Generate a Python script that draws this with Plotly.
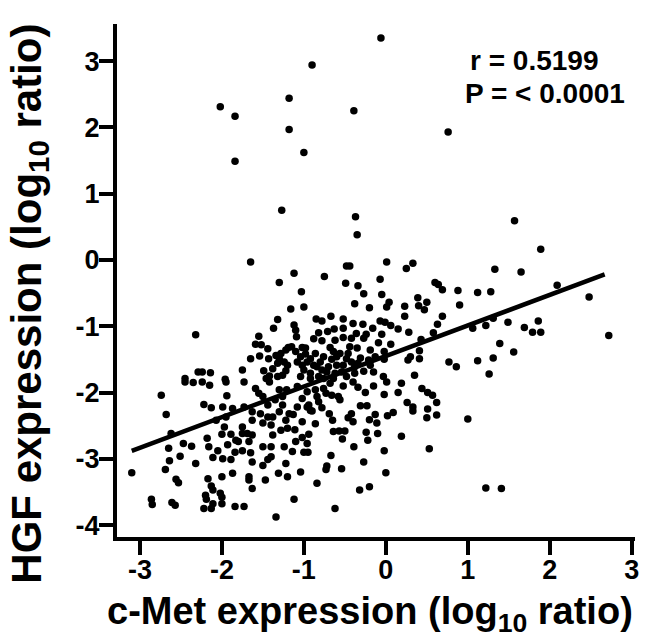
import plotly.graph_objects as go

# c-Met (x) vs HGF (y) expression, log10 ratio
upper_pts = [(-2.02, 2.31), (-1.84, 2.17), (-1.84, 1.49), (-1.18, 2.44), (-1.18, 1.97),
             (-0.06, 3.35), (-0.90, 2.94), (-0.39, 2.25), (0.76, 1.93), (-1.00, 1.62)]

left_mid_pts = [(-1.27, 0.75), (-1.65, -0.03), (-1.30, -0.34), (-1.16, -0.74), (-1.32, -0.90),
                (-1.37, -1.03), (-2.32, -1.13), (-1.55, -1.15), (-1.59, -1.27), (-1.52, -1.28),
                (-1.44, -1.34), (-1.65, -1.49), (-1.54, -1.45), (-1.43, -1.49), (-1.34, -1.44),
                (-1.30, -1.49), (-1.22, -1.36), (-1.19, -1.32), (-1.32, -1.56), (-1.75, -1.66),
                (-2.29, -1.69), (-2.24, -1.69), (-2.14, -1.70), (-1.49, -1.67), (-1.22, -1.67),
                (-2.45, -1.79), (-1.96, -1.80), (-1.42, -1.75), (-1.32, -1.76),
                (-1.28, -1.41), (-1.24, -1.54), (-1.38, -1.64), (-1.26, -1.74), (-1.20, -1.59),
                (-1.46, -1.79)]

center_pts = [(-0.37, 0.65), (-0.35, 0.38), (0.01, -0.03), (-0.48, -0.09), (-0.44, -0.09),
              (0.25, -0.13), (0.33, -0.05), (-1.12, -0.20), (-0.75, -0.25), (-0.07, -0.29),
              (-0.49, -0.35), (-0.34, -0.39), (0.60, -0.34), (0.64, -0.37), (0.69, -0.45),
              (0.88, -0.46), (-1.03, -0.48), (-0.27, -0.51), (-0.05, -0.52), (0.39, -0.57),
              (0.50, -0.64), (0.04, -0.64), (-0.38, -0.66), (0.40, -0.69), (0.90, -0.68),
              (0.01, -0.71), (-0.20, -0.72), (0.23, -0.70), (-1.00, -0.71), (0.47, -0.75),
              (0.23, -0.85), (-0.67, -0.85), (0.69, -0.85), (-0.85, -0.89), (-0.78, -0.92),
              (-0.52, -0.89), (-0.07, -0.92), (-0.01, -0.94), (-0.40, -0.96), (-0.28, -0.97),
              (0.63, -0.97), (-1.12, -0.98), (-0.16, -1.03), (0.06, -0.99), (0.15, -1.04),
              (-1.10, -1.06), (-0.63, -1.04), (-0.52, -1.03), (-0.71, -1.08), (-0.82, -1.10),
              (-0.36, -1.11), (-0.24, -1.12), (-0.05, -1.12), (0.28, -1.09), (0.58, -1.10),
              (-1.09, -1.16), (-0.52, -1.17), (-0.42, -1.18), (-0.27, -1.18), (-0.88, -1.19),
              (-0.78, -1.22), (-0.62, -1.21), (0.43, -1.20), (-0.09, -1.25), (0.06, -1.27),
              (-1.15, -1.31), (-1.02, -1.32), (-0.68, -1.32), (-0.44, -1.31), (-0.35, -1.33),
              (-0.19, -1.36), (0.41, -1.37), (-0.98, -1.42), (-0.86, -1.41), (-0.56, -1.41),
              (-0.02, -1.38), (-0.76, -1.46), (-0.92, -1.49), (-0.66, -1.50), (-0.48, -1.49),
              (-0.31, -1.48), (0.30, -1.46), (0.41, -1.49), (0.77, -1.54), (0.86, -1.61),
              (-1.08, -1.54), (0.27, -1.51), (-0.21, -1.51), (-0.02, -1.50), (-1.02, -1.59),
              (-0.84, -1.61), (-0.60, -1.59), (-0.38, -1.61), (-0.72, -1.69), (-0.92, -1.71),
              (-0.54, -1.69), (-0.27, -1.68), (-1.04, -1.76), (0.35, -1.74), (-0.03, -1.76),
              (-0.64, -1.79)]

# dense core (overlapping dots)
core_pts = [(-1.10, -1.38), (-1.04, -1.46), (-0.96, -1.54), (-1.00, -1.66), (-0.88, -1.59),
            (-0.80, -1.54), (-0.78, -1.66), (-0.70, -1.61), (-0.92, -1.79), (-0.82, -1.76),
            (-0.76, -1.79), (-0.98, -1.33), (-0.60, -1.46), (-0.64, -1.38), (-0.46, -1.41),
            (-0.52, -1.59), (-0.42, -1.54), (-0.34, -1.56), (-0.19, -1.59), (-0.13, -1.46),
            (-0.15, -1.69), (-0.38, -1.71), (-0.48, -1.76), (-0.62, -1.71),
            (-1.55, -2.01), (-1.30, -1.96), (-1.26, -2.19), (-1.44, -2.37), (-1.18, -2.32),
            (-1.08, -1.91), (-1.02, -2.09), (-0.76, -1.94), (-0.66, -2.04), (-1.08, -2.22)]

right_pts = [(1.57, 0.59), (1.89, 0.16), (1.33, -0.14), (1.65, -0.18), (1.12, -0.49),
             (1.28, -0.48), (2.09, -0.38), (2.48, -0.56), (1.31, -0.88), (1.06, -1.03),
             (1.22, -0.99), (1.49, -0.94), (1.69, -1.02), (1.86, -0.92), (1.79, -1.09),
             (1.89, -1.09), (2.72, -1.14), (1.39, -1.26), (1.56, -1.39), (1.12, -1.52),
             (1.31, -1.48), (1.26, -1.72), (1.00, -2.40), (1.22, -3.44), (1.41, -3.45)]

low_left_pts = [(-2.74, -2.04), (-2.68, -2.33), (-3.10, -3.21), (-2.65, -2.84), (-2.64, -3.03),
                (-2.69, -3.16), (-2.56, -3.31), (-2.53, -3.36), (-2.86, -3.61), (-2.85, -3.69),
                (-2.61, -3.66), (-2.57, -3.70), (-2.47, -2.77), (-2.37, -2.81), (-2.51, -2.96),
                (-2.32, -3.07), (-2.62, -2.62), (-2.22, -2.18), (-2.13, -2.23), (-2.18, -2.69),
                (-2.16, -2.82), (-2.05, -2.88), (-2.11, -2.98), (-1.99, -3.00), (-1.89, -3.01),
                (-2.17, -3.30), (-2.13, -3.41), (-2.00, -3.27), (-1.87, -3.22), (-2.11, -3.47),
                (-2.20, -3.55), (-2.19, -3.61), (-2.02, -3.52), (-2.00, -3.58), (-2.11, -3.68),
                (-2.22, -3.75), (-2.13, -3.75), (-2.00, -3.68), (-1.84, -3.72), (-1.73, -3.72),
                (-1.34, -3.88), (-1.94, -2.05), (-1.99, -2.22), (-1.87, -2.24), (-1.95, -2.37),
                (-2.07, -2.42), (-1.97, -2.52), (-2.00, -2.63), (-1.89, -2.63), (-1.83, -2.72),
                (-1.93, -2.79), (-1.84, -2.90), (-1.75, -2.88), (-1.80, -2.74), (-1.75, -2.52),
                (-1.75, -2.62), (-1.69, -2.62), (-1.63, -2.64), (-1.67, -2.74), (-1.73, -2.22),
                (-1.63, -2.29), (-1.53, -2.32), (-1.63, -2.42), (-1.50, -2.46), (-1.65, -2.91),
                (-1.63, -3.05), (-1.50, -2.82), (-1.40, -2.82), (-1.44, -3.01), (-1.50, -3.10),
                (-1.40, -2.97), (-1.67, -3.27), (-1.67, -3.32), (-1.63, -3.45), (-1.47, -3.32),
                (-1.31, -3.22), (-1.20, -3.27), (-1.22, -3.07), (-1.24, -2.82), (-1.38, -2.64),
                (-1.28, -2.57), (-1.20, -2.54), (-1.40, -2.49), (-1.22, -2.42), (-1.38, -2.37),
                (-1.30, -2.29), (-1.44, -2.19), (-1.35, -2.11), (-1.26, -2.06), (-1.50, -2.06),
                (-1.59, -1.94), (-1.42, -1.84), (-1.73, -1.84), (-1.95, -1.84), (-2.15, -1.89),
                (-2.35, -1.85), (-2.45, -1.84), (-2.24, -1.84), (-1.21, -1.96)]

low_mid_pts = [(-0.62, -3.75), (-1.12, -3.61), (-0.84, -3.37), (-1.04, -3.20), (-0.73, -3.16),
               (-0.72, -3.11), (-0.54, -3.15), (-0.67, -2.95), (-0.32, -3.47), (-0.20, -3.42),
               (-0.27, -3.05), (0.00, -3.21), (-0.02, -2.88), (-0.39, -2.82), (-0.53, -2.70),
               (-0.22, -2.72), (-0.24, -2.60), (-0.10, -2.62), (-0.64, -2.59), (-0.57, -2.58),
               (-0.50, -2.58), (0.19, -2.66), (0.53, -2.85), (-1.11, -2.56), (-0.94, -2.63),
               (-1.02, -2.68), (-1.10, -2.74), (-0.96, -2.77), (-1.14, -2.89), (-1.00, -2.90),
               (-0.95, -2.90), (-1.02, -2.44), (-0.86, -2.47), (-0.65, -2.42), (-1.13, -2.33),
               (-0.69, -2.32), (-0.46, -2.38), (-0.42, -2.32), (-0.40, -2.44), (-0.20, -2.41),
               (-0.11, -2.46), (-0.13, -2.33), (0.02, -2.35), (0.09, -2.30), (-0.96, -2.22),
               (-0.90, -2.28), (-0.78, -2.23), (-0.31, -2.20), (-0.23, -2.20), (0.26, -2.15),
               (0.33, -2.22), (0.33, -2.28), (0.51, -2.25), (0.50, -2.38), (0.62, -2.34),
               (0.62, -2.15), (0.57, -2.04), (0.51, -2.00), (0.44, -1.94), (0.15, -2.00),
               (0.19, -1.86), (-0.02, -2.03), (-0.15, -1.90), (-0.34, -1.92), (-0.25, -2.00),
               (-0.52, -1.90), (-0.58, -2.06), (-0.56, -2.11), (-0.84, -2.06), (-0.82, -2.14),
               (-0.92, -2.27), (-0.94, -2.19), (-0.73, -2.01), (-0.96, -1.99), (-0.86, -1.96),
               (-0.68, -1.86), (-0.40, -1.84), (0.01, -1.84)]

all_pts = (upper_pts + left_mid_pts + center_pts + core_pts + right_pts
           + low_left_pts + low_mid_pts)
cmet = [p[0] for p in all_pts]
hgf = [p[1] for p in all_pts]

# linear fit drawn in the reference
fit_slope = 0.461
fit_intercept = -1.45
fit_x = [-3.10, 2.67]
fit_y = [fit_slope * v + fit_intercept for v in fit_x]

r_text = "r = 0.5199"
p_text = "P = < 0.0001"

x_ticks = [-3, -2, -1, 0, 1, 2, 3]
y_ticks = [-4, -3, -2, -1, 0, 1, 2, 3]

FONT = "Liberation Sans, Arial, sans-serif"

# plot area in pixels: x 117..639, y 24..537
L, R, T, B = 117, 639, 24, 537
W, H = R - L, B - T


def px_to_paper(px, py):
    return (px - L) / W, 1 - (py - T) / H


fig = go.Figure()
fig.add_trace(go.Scatter(x=cmet, y=hgf, mode="markers",
                         marker=dict(color="black", size=7.5, line=dict(width=0)),
                         showlegend=False))
fig.add_trace(go.Scatter(x=fit_x, y=fit_y, mode="lines",
                         line=dict(color="black", width=4.5), showlegend=False))

for txt, px_left, px_mid in [(r_text, 471, 60), (p_text, 466, 93)]:
    ax, ay = px_to_paper(px_left, px_mid)
    fig.add_annotation(x=ax, y=ay, xref="paper", yref="paper", xanchor="left", yanchor="middle",
                       text="<b>" + txt + "</b>", showarrow=False,
                       font=dict(family=FONT, size=28, color="black"))

# axis titles as annotations so they can be placed like the reference
tx, ty = px_to_paper(372, 614)
fig.add_annotation(x=tx, y=ty, xref="paper", yref="paper", xanchor="center", yanchor="middle",
                   text="<b>c-Met expression (log<sub>10</sub> ratio)</b>", showarrow=False,
                   font=dict(family=FONT, size=38, color="black"))
tx, ty = px_to_paper(28, 304)
fig.add_annotation(x=tx, y=ty, xref="paper", yref="paper", xanchor="center", yanchor="middle",
                   textangle=-90,
                   text="<b>HGF expression (log<sub>10</sub> ratio)</b>", showarrow=False,
                   font=dict(family=FONT, size=42, color="black"))

fig.update_xaxes(range=[-3.28, 3.04], tickvals=x_ticks,
                 ticktext=["<b>%d</b>" % v for v in x_ticks],
                 showgrid=False, zeroline=False,
                 showline=True, linewidth=4, linecolor="black",
                 ticks="outside", ticklen=14, tickwidth=4, tickcolor="black",
                 ticklabelstandoff=-8,
                 tickfont=dict(family=FONT, size=27, color="black", weight="bold"))
fig.update_yaxes(range=[-4.18, 3.56], tickvals=y_ticks,
                 ticktext=["<b>%d</b>" % v for v in y_ticks],
                 showgrid=False, zeroline=False,
                 showline=True, linewidth=4, linecolor="black",
                 ticks="outside", ticklen=14, tickwidth=4, tickcolor="black",
                 ticklabelstandoff=-6,
                 tickfont=dict(family=FONT, size=27, color="black", weight="bold"))
fig.update_layout(width=646, height=640, plot_bgcolor="white", paper_bgcolor="white",
                  margin=dict(l=L, r=646 - R, t=T, b=640 - B))

# the page body has a default 8px margin; drop it so the figure sits at the window corner
fig.write_html("out.html", config={"displayModeBar": False},
               post_script="document.body.style.margin='0';")
